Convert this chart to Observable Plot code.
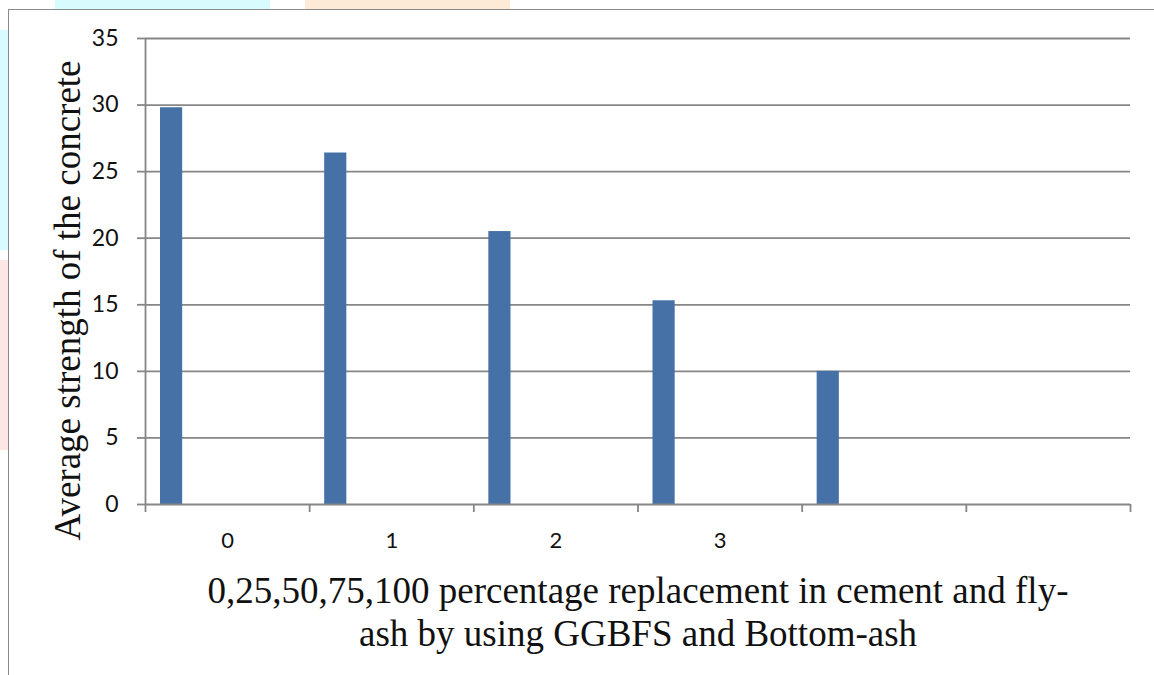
<!DOCTYPE html>
<html>
<head>
<meta charset="utf-8">
<script src="https://cdn.jsdelivr.net/npm/d3@7"></script>
<script src="https://cdn.jsdelivr.net/npm/@observablehq/plot@0.6"></script>
<style>
  html, body { margin: 0; padding: 0; background: #fff; }
  #wrap { position: relative; width: 1154px; height: 675px; overflow: hidden; }
  .wm { position: absolute; }
  #frame { position: absolute; left: 8px; top: 9px; width: 1154px; height: 700px;
           border-left: 1.5px solid #8a8a8a; border-top: 1.5px solid #8a8a8a; }
  #chart { position: absolute; left: 0; top: 0; }
</style>
</head>
<body>
<div id="wrap">
  <div class="wm" style="left:0;top:30px;width:8px;height:220px;background:#d8fbfd"></div>
  <div class="wm" style="left:55px;top:0;width:215px;height:9px;background:#d8fbfd"></div>
  <div class="wm" style="left:305px;top:0;width:205px;height:9px;background:#fdebd8"></div>
  <div class="wm" style="left:0;top:260px;width:8px;height:190px;background:#fde6e6"></div>
  <div id="frame"></div>
  <div id="chart"></div>
</div>
<script>
const categories = ["0", "1", "2", "3", "", ""];
const values = [29.8, 26.4, 20.5, 15.3, 10.0];
const yTicks = [0, 5, 10, 15, 20, 25, 30, 35];
const yTitle = "Average strength of the concrete";
const xTitle = "0,25,50,75,100 percentage replacement in cement and fly-\nash by using GGBFS and Bottom-ash";

const bars = values.map((v, i) => ({i, v}));
const cats = categories.map((c, i) => ({i, c}));
const gray = "#868686";
const serif = "'Liberation Serif', 'Times New Roman', serif";

const plot = Plot.plot({
  width: 1154,
  height: 675,
  marginLeft: 145,
  marginRight: 24,
  marginTop: 38,
  marginBottom: 171,
  style: {fontFamily: "Lato, 'Open Sans', sans-serif", background: "transparent", overflow: "visible"},
  x: {type: "linear", domain: [0, categories.length], axis: null},
  y: {domain: [0, 35], axis: null},
  marks: [
    Plot.ruleY(yTicks.filter(d => d > 0), {stroke: gray, strokeWidth: 1.8}),
    Plot.rectY(bars, {x1: d => d.i, x2: d => d.i + 1, y1: 0, y2: "v", fill: "#4671a7",
      insetLeft: 15, insetRight: 127}),
    Plot.ruleY([0], {stroke: gray, strokeWidth: 1.8}),
    Plot.ruleX([0], {stroke: gray, strokeWidth: 1.8}),
    Plot.axisY({ticks: yTicks, tickSize: 8, tickPadding: 19, stroke: gray, strokeWidth: 1.8,
      fill: "#111", fontSize: 23, label: null}),
    Plot.axisX({ticks: d3.range(0, categories.length + 1), tickSize: 8, tickFormat: () => "",
      stroke: gray, strokeWidth: 1.8, label: null}),
    Plot.text(cats, {x: d => d.i + 0.5, y: 0, text: "c", dy: 36, fontSize: 22, fill: "#111"}),
    Plot.text([yTitle], {frameAnchor: "left", rotate: -90, dx: -77, dy: 29, fontSize: 37,
      fontFamily: serif, fill: "#111", lineAnchor: "middle", textAnchor: "middle"}),
    Plot.text([xTitle], {frameAnchor: "bottom", dy: 69, fontSize: 37, lineHeight: 1.14,
      fontFamily: serif, fill: "#111", lineAnchor: "top"})
  ]
});
document.getElementById("chart").appendChild(plot);
</script>
</body>
</html>
